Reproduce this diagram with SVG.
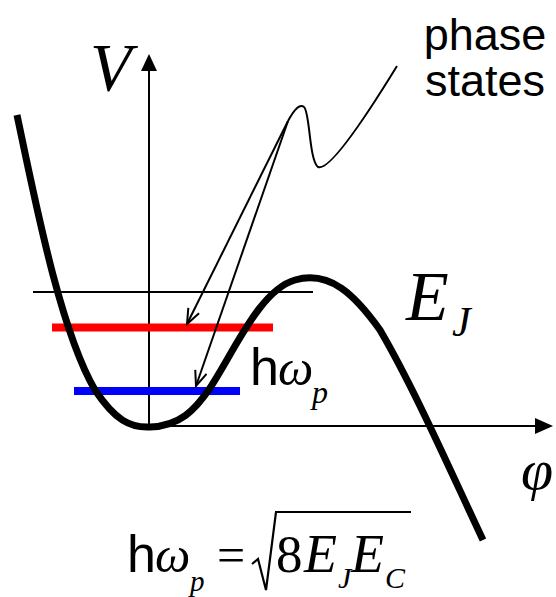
<svg xmlns="http://www.w3.org/2000/svg" width="556" height="597" viewBox="0 0 556 597">
<style>
.serif{font-family:"Liberation Serif","Times New Roman",serif;font-style:italic;fill:#000}
.roman{font-family:"Liberation Serif","Times New Roman",serif;font-style:normal;fill:#000}
.sans{font-family:"Liberation Sans",Arial,sans-serif;fill:#000}
.thin{stroke:#000;stroke-width:2;fill:none}
</style>
<defs>
<marker id="open" markerUnits="userSpaceOnUse" markerWidth="18" markerHeight="14" refX="16" refY="7" orient="auto">
<path d="M1,1 L16,7 L1,13" fill="none" stroke="#000" stroke-width="2"/>
</marker>
</defs>
<rect width="556" height="597" fill="#fff"/>
<g id="axes">
<line x1="149" y1="427" x2="149" y2="68" class="thin"/>
<polygon points="149,54 141,71 157,71" fill="#000"/>
<line x1="149" y1="426" x2="537" y2="426" class="thin"/>
<polygon points="553,426 535,418 535,434" fill="#000"/>
</g>
<g id="barrier-line"><line x1="33" y1="292" x2="313" y2="292" class="thin"/></g>
<g id="level-red"><line x1="52" y1="327.5" x2="273" y2="327.5" stroke="#ff0000" stroke-width="8"/></g>
<g id="level-blue"><line x1="74" y1="391" x2="240" y2="391" stroke="#0000ff" stroke-width="8"/></g>
<g id="potential">
<path d="M17,115 C35,200 60,330 95,390 C115,420 130,428 150,427 C180,426 195,410 210,388 C235,350 260,290 295,280 C330,270 355,295 380,330 C415,390 450,470 483,540" fill="none" stroke="#000" stroke-width="7"/>
</g>
<g id="connectors">
<path d="M288,121 C295,108 300,104 304,107 C310,112 309,160 318,167 C330,172 370,110 397,66" class="thin"/>
<line x1="288" y1="121" x2="187" y2="324" class="thin" marker-end="url(#open)"/>
<line x1="288" y1="121" x2="196" y2="386" class="thin" marker-end="url(#open)"/>
</g>
<g id="label-V"><text x="90" y="90" class="serif" font-size="68">V</text></g>
<g id="label-phase"><text class="sans" font-size="45" text-anchor="middle"><tspan x="485" y="50">phase</tspan><tspan x="485" y="96">states</tspan></text></g>
<g id="label-EJ"><text x="406" y="320" class="serif" font-size="70">E</text><text x="452" y="336" class="serif" font-size="42">J</text></g>
<g id="label-phi"><text x="521" y="489" class="serif" font-size="58">φ</text></g>
<g id="label-hwp"><text x="250" y="385" class="sans" font-size="52">h</text><text x="278" y="385" class="serif" font-size="50">ω</text><text x="312" y="403" class="serif" font-size="32">p</text></g>
<g id="formula">
<text x="127" y="572" class="sans" font-size="52">h</text>
<text x="155" y="572" class="serif" font-size="50">ω</text>
<text x="190" y="591" class="serif" font-size="29">p</text>
<text x="217" y="572" class="roman" font-size="50">=</text>
<path d="M252,564 L258,559 L266,590 L276,512 L411,512" fill="none" stroke="#000" stroke-width="2.2"/>
<text x="276" y="572" class="roman" font-size="53">8</text>
<text x="304" y="572" class="serif" font-size="54">E</text>
<text x="338" y="588" class="serif" font-size="30">J</text>
<text x="351" y="572" class="serif" font-size="54">E</text>
<text x="385" y="588" class="serif" font-size="30">C</text>
</g>
</svg>
